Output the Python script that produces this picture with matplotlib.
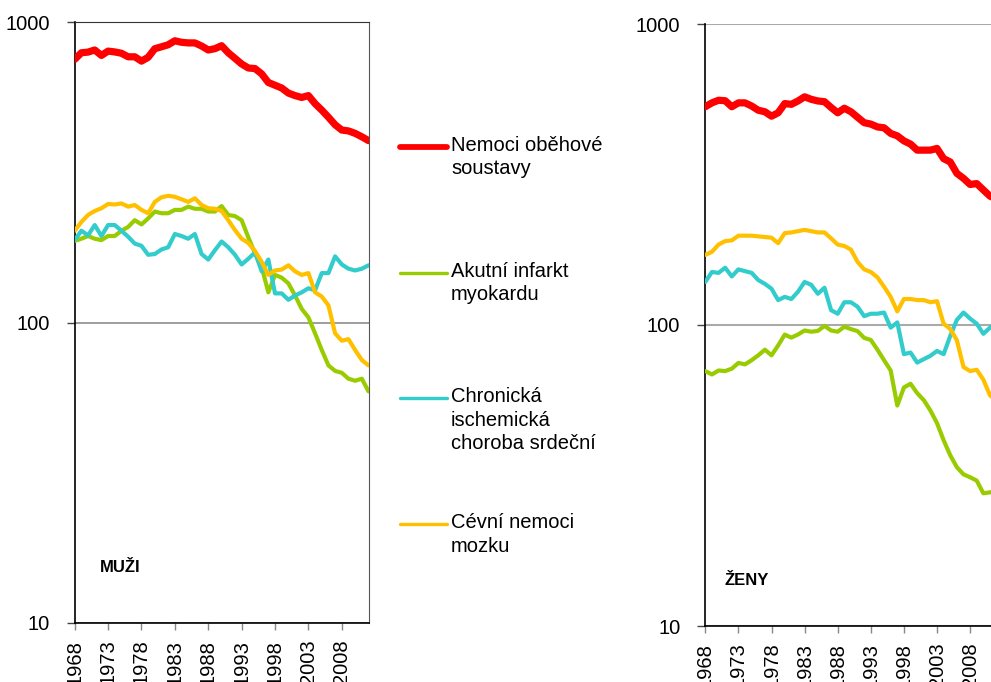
import numpy as np
import matplotlib
matplotlib.use('Agg')
import matplotlib.pyplot as plt
from matplotlib.lines import Line2D
from matplotlib.ticker import FixedLocator, NullLocator, FixedFormatter

plt.rcParams['font.family'] = ['Liberation Sans', 'DejaVu Sans']

years = np.arange(1968, 2013)
tick_years = list(range(1968, 2009, 5))

## muži
men_obeh = [751, 790, 794, 807, 774, 800, 795, 787, 766, 766, 741, 763, 815, 827, 840,
            866, 856, 852, 852, 832, 807, 815, 834, 790, 757, 725, 703, 700, 672, 629,
            616, 603, 580, 569, 561, 569, 535, 509, 482, 455, 437, 434, 426, 415, 403]
men_aim = [187, 190, 194, 190, 188, 194, 194, 202, 208, 219, 212, 222, 234, 231, 231,
           237, 237, 243, 239, 239, 234, 234, 244, 228, 226, 219, 192, 170, 153, 126,
           144, 141, 135, 123, 111, 104, 92, 81, 72, 69, 68, 65, 64, 65, 59]
men_chis = [188, 202, 195, 211, 194, 211, 211, 202, 193, 183, 180, 168, 169, 175, 178,
            197, 194, 190, 197, 169, 162, 174, 186, 178, 168, 156, 163, 171, 148, 162,
            125, 125, 119, 123, 126, 130, 128, 146, 146, 166, 156, 151, 149, 151, 155]
men_cnm = [202, 216, 228, 235, 240, 248, 247, 249, 243, 246, 237, 231, 252, 261, 264,
           262, 257, 252, 259, 246, 240, 239, 235, 219, 203, 190, 184, 173, 159, 144,
           149, 150, 155, 148, 144, 146, 126, 122, 114, 92, 87, 88, 81, 75, 72]

## ženy
women_obeh = [531, 547, 558, 556, 531, 547, 547, 534, 517, 511, 494, 507, 544, 541, 555,
              573, 562, 555, 552, 528, 507, 525, 511, 490, 470, 465, 455, 452, 433, 425,
              409, 399, 381, 381, 381, 386, 357, 348, 319, 307, 293, 295, 281, 268, 262]
women_aim = [70.3, 68.5, 70.6, 70.3, 71.6, 74.8, 74, 76.4, 79.3, 82.8, 79.3, 85.5, 92.9, 90.8, 93,
             95.9, 95, 95.6, 99.3, 95.9, 95, 98.7, 96.9, 95.4, 90.6, 89.2, 82.8, 76.4, 70.6, 54,
             62, 63.8, 59.4, 56.3, 52, 47.2, 41.4, 36.9, 33.7, 31.9, 31.2, 30.4, 27.6, 27.8, 28]
women_chis = [139, 150, 149, 155, 145, 153, 151, 149, 141, 137, 132, 121, 124, 122, 129,
              139, 136, 127, 133, 112, 109, 119, 119, 115, 107, 109, 109, 110, 98, 102,
              80, 81, 75, 77, 79, 82, 80, 92, 104, 110, 105, 101, 93.5, 98, 100]
women_cnm = [171, 175, 185, 190, 191, 198, 198, 198, 197, 196, 195, 187, 202, 203, 205,
             207, 205, 203, 203, 194, 185, 183, 178, 162, 153, 150, 144, 134, 124, 111,
             122, 122, 121, 121, 119, 120, 101, 97, 89, 72.5, 70.3, 71, 65.8, 58.4, 56]

labels = ['Nemoci oběhové\nsoustavy', 'Akutní infarkt\nmyokardu',
          'Chronická\nischemická\nchoroba srdeční', 'Cévní nemoci\nmozku']
colors = ['#FF0000', '#99CC00', '#33CCCC', '#FFC000']
widths = [5.2, 3.0, 3.0, 3.0]

W, H = 991, 682
fig = plt.figure(figsize=(W / 100, H / 100), dpi=100)

def make_panel(rect, series, title, title_xy):
    ax = fig.add_axes(rect)
    for s, c, lw in zip(series, colors, widths):
        ax.plot(years, s, color=c, lw=lw, solid_capstyle='round', solid_joinstyle='round', zorder=3)
    ax.set_yscale('log')
    ax.set_ylim(10, 1000)
    ax.set_xlim(1968, 2012)
    ax.yaxis.set_major_locator(FixedLocator([10, 100, 1000]))
    ax.yaxis.set_major_formatter(FixedFormatter(['10', '100', '1000']))
    ax.yaxis.set_minor_locator(NullLocator())
    ax.set_xticks(tick_years)
    ax.set_xticklabels([str(y) for y in tick_years], rotation=90, fontsize=14.5)
    ax.tick_params(axis='y', labelsize=14.5, length=6, width=1, pad=12, color='#444444')
    ax.tick_params(axis='x', length=5, width=1, pad=7, color='#888888')
    ax.grid(axis='y', which='major', color='#8c8c8c', lw=1.2, zorder=1)
    ax.set_axisbelow(True)
    for sp in ['left', 'bottom']:
        ax.spines[sp].set_color('black')
        ax.spines[sp].set_linewidth(1.2)
    ax.text(title_xy[0], title_xy[1], title, transform=ax.transAxes,
            fontsize=12, fontweight='bold', va='center', ha='left')
    return ax

axL = make_panel([74.7 / W, 1 - 623 / H, (368.5 - 74.7) / W, (623 - 22) / H],
                 [men_obeh, men_aim, men_chis, men_cnm], 'MUŽI', (0.085, 0.093))
axL.spines['top'].set_color('#333333')
axL.spines['right'].set_color('#555555')

axR = make_panel([705.3 / W, 1 - 626 / H, (996.6 - 705.3) / W, (626 - 24) / H],
                 [women_obeh, women_aim, women_chis, women_cnm], 'ŽENY', (0.067, 0.076))
axR.spines['top'].set_visible(False)
axR.spines['right'].set_visible(False)
axR.grid(axis='y', which='major', color='#aaaaaa', lw=1.5, zorder=1)

# legenda
leg_y = [147, 273, 398, 524]
for lab, c, lw, y in zip(labels, colors, widths, leg_y):
    fig.add_artist(Line2D([400 / W, 447 / W], [1 - y / H, 1 - y / H], color=c,
                          lw=lw * 0.8, solid_capstyle='round', transform=fig.transFigure))
    fig.text(451 / W, 1 - (y - 11) / H, lab, fontsize=14.5, va='top', ha='left',
             linespacing=1.3)

fig.savefig('out.png', dpi=100)
